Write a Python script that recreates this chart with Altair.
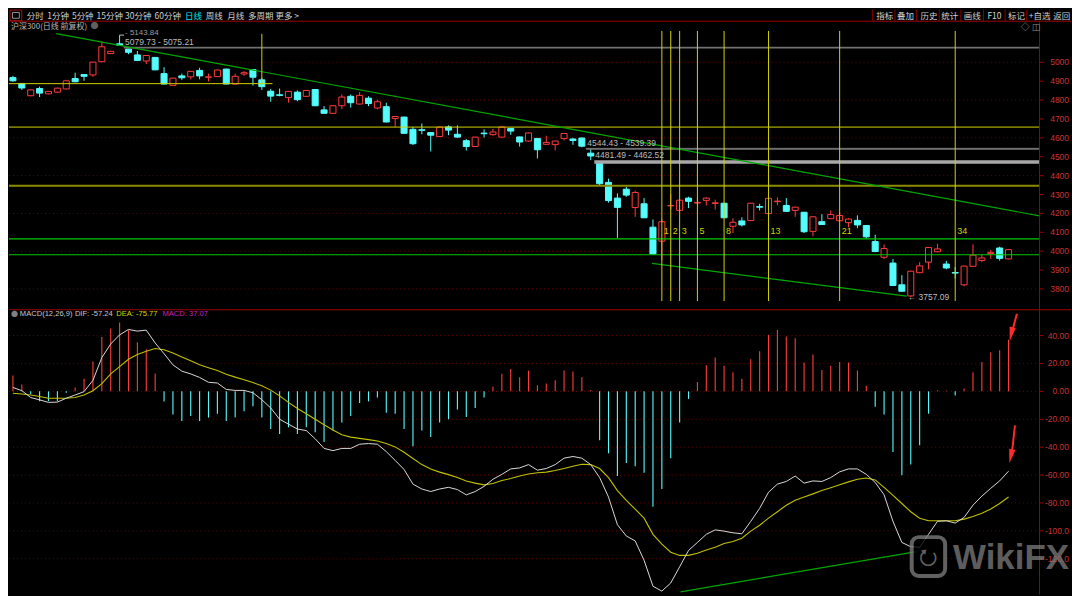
import altair as alt
import pandas as pd

# ---------------- data ----------------
OPEN = [4919, 4888, 4823, 4861, 4833, 4842, 4859, 4914, 4935, 4933,
        5003, 5046, 5098, 5070, 5039, 5007, 5026, 4940, 4878, 4928,
        4923, 4957, 4921, 4924, 4964, 4885, 4938, 4962, 4907, 4847,
        4828, 4813, 4842, 4820, 4856, 4748, 4730, 4770, 4820, 4779,
        4810, 4758, 4765, 4702, 4710, 4645, 4643, 4628, 4607, 4658,
        4619, 4585, 4554, 4625, 4617, 4604, 4650, 4605, 4583, 4597,
        4566, 4564, 4597, 4594, 4599, 4519, 4465, 4364, 4281, 4328,
        4231, 4251, 4127, 4053, 4240, 4216, 4281, 4255, 4269, 4253,
        4254, 4132, 4160, 4162, 4236, 4199, 4262, 4242, 4216, 4206,
        4105, 4156, 4172, 4161, 4151, 4163, 4136, 4051, 3968, 3937,
        3822, 3763, 3886, 3942, 3997, 3932, 3887, 3822, 3920, 3951,
        3987, 4017, 3959]
HIGH = [4928, 4890, 4856, 4871, 4848, 4866, 4904, 4945, 4937, 5002,
        5113, 5060, 5143.84, 5072, 5060, 5038, 5028, 4974, 4918, 4940,
        4954, 4971, 4940, 4961, 4966, 4940, 4954, 4964, 4919, 4859,
        4861, 4848, 4851, 4853, 4858, 4768, 4772, 4830, 4830, 4842,
        4820, 4802, 4786, 4716, 4712, 4658, 4676, 4630, 4660, 4666,
        4666, 4594, 4606, 4645, 4648, 4660, 4652, 4607, 4628, 4599,
        4611, 4585, 4625, 4600, 4602, 4545, 4467, 4384, 4306, 4340,
        4320, 4281, 4168, 4168, 4302, 4275, 4288, 4285, 4285, 4273,
        4256, 4174, 4179, 4256, 4251, 4292, 4285, 4281, 4235, 4208,
        4184, 4196, 4216, 4208, 4175, 4190, 4138, 4087, 4036, 3959,
        3873, 3896, 3942, 4021, 4040, 3949, 3916, 3923, 4036, 3985,
        4006, 4024, 4010]
LOW = [4897, 4854, 4820, 4816, 4831, 4838, 4857, 4894, 4902, 4923,
       5001, 5044, 5088, 5043, 5008, 4991, 4958, 4882, 4876, 4907,
       4910, 4910, 4899, 4922, 4883, 4883, 4928, 4877, 4854, 4791,
       4820, 4787, 4794, 4818, 4768, 4728, 4728, 4753, 4760, 4777,
       4768, 4751, 4682, 4657, 4622, 4562, 4619, 4528, 4605, 4614,
       4600, 4533, 4552, 4602, 4611, 4602, 4616, 4554, 4580, 4491,
       4564, 4533, 4586, 4563, 4550, 4482, 4350, 4257, 4070, 4288,
       4182, 4175, 3983, 3951, 4220, 4214, 4228, 4242, 4242, 4220,
       4175, 4096, 4131, 4160, 4216, 4197, 4242, 4209, 4182, 4096,
       4079, 4139, 4170, 4159, 4126, 4122, 4066, 3995, 3959, 3816,
       3785, 3757.09, 3884, 3904, 3995, 3904, 3856, 3814, 3918, 3942,
       3959, 3950, 3957]
CLOSE = [4902, 4864, 4854, 4837, 4846, 4863, 4902, 4897, 4926, 5001,
         5082, 5058, 5090, 5053, 5010, 5036, 4960, 4885, 4916, 4918,
         4952, 4928, 4923, 4959, 4885, 4926, 4945, 4921, 4871, 4821,
         4825, 4846, 4802, 4851, 4770, 4730, 4770, 4816, 4786, 4825,
         4782, 4791, 4684, 4713, 4624, 4569, 4640, 4614, 4657, 4641,
         4604, 4554, 4604, 4622, 4631, 4657, 4636, 4578, 4626, 4537,
         4576, 4583, 4623, 4586, 4556, 4504, 4357, 4268, 4232, 4297,
         4311, 4177, 3985, 4156, 4242, 4270, 4264, 4258, 4281, 4256,
         4177, 4153, 4139, 4254, 4233, 4280, 4265, 4211, 4233, 4103,
         4182, 4141, 4194, 4189, 4170, 4139, 4076, 3998, 4014, 3818,
         3788, 3894, 3922, 4019, 4012, 3911, 3884, 3921, 3979, 3964,
         3994, 3962, 4008]
HIST = [11.4, 4.9, -2, -7, -7, -7, -1, 2.8, 9, 21.4,
        38.9, 45.1, 49.3, 43.9, 35.3, 30.2, 12.8, -7.2, -16.5, -21.2,
        -17.7, -21.2, -18.8, -16, -21.2, -18.8, -14.2, -10.7, -18.8, -27,
        -30.5, -25.8, -30.5, -25.8, -29.3, -36.3, -28.1, -22.3, -17.7, -8.4,
        -7.2, -4.4, -15.3, -16, -27, -39.3, -28.1, -32.8, -22.3, -20,
        -13, -18.4, -11.9, -4.4, 3.3, 12.6, 16, 10.2, 14.9, 4.4,
        5.6, 7.9, 14.9, 14.2, 10.2, 0.9, -35.1, -44.4, -60.7, -51.4,
        -53.7, -58.4, -82.8, -70, -47.9, -22.3, -5.4, 6.8, 18.8, 24.2,
        18.4, 13.7, 9, 23, 28.8, 40.5, 44, 39.3, 38.1, 20.7,
        26.5, 15.3, 18.4, 21.1, 20.7, 14.9, 4, -11, -16.5, -43.5,
        -60.2, -52.5, -38.6, -16, 0.8, 0.6, -3, 2, 13.7, 21.1,
        28.1, 29.5, 37.07]
DIF = [2.8, 0.5, -4.4, -6.1, -7.9, -7.7, -4.9, -2.6, -0.2, 7.9,
       24.2, 34, 40.5, 44.4, 43.2, 43.9, 34.7, 27, 19, 14.5,
       12.5, 10, 6.5, 6, 1.4, 0.7, 0.7, -1, -6, -11.9,
       -20, -23.5, -27, -28.1, -34, -40.9, -42.5, -40.9, -40.9, -37.9,
       -37.4, -37.9, -43.2, -49.5, -56, -66.5, -70, -71.8, -70, -68.8,
       -70.4, -74.2, -71.8, -68.1, -63, -59.5, -55.6, -54.9, -52.5, -56.5,
       -55.3, -52.5, -47.9, -46.7, -47.9, -52.5, -61.8, -75.8, -95.6, -103.7,
       -107.2, -121.1, -139.7, -143.2, -137.4, -125.8, -114.1, -108.3, -102.5, -99.3,
       -100.2, -101.4, -102.1, -93.2, -83.9, -72.3, -66.5, -64.6, -60.7, -65.8,
       -64.2, -64.6, -61.8, -57.7, -55.6, -55.6, -59.5, -65.3, -74.2, -93.2,
       -108.3, -111.4, -111.8, -102.5, -93.2, -92.8, -94.4, -90.4, -81.6, -75.1,
       -69.5, -64.2, -57.24]
DEA = [-1.4, -1.9, -2.6, -3.7, -4.9, -4.9, -4.9, -4.4, -2.6, 0.5,
       5.6, 12.6, 17.7, 23, 26.5, 28.8, 30.7, 29.8, 27.5, 24.7,
       21.9, 19.1, 17, 14.9, 12.3, 10.2, 8.4, 6.3, 4, 0.9,
       -3.2, -7.9, -12.3, -16, -20, -23.9, -27.7, -31.1, -32.8, -33.7,
       -34.6, -35.6, -37.4, -39.8, -43.7, -48.1, -52.5, -55.6, -57.9, -59.7,
       -61.8, -64.2, -65.8, -67, -66, -63.9, -62.5, -60.7, -59.3, -58.4,
       -57.9, -56.7, -55.3, -53.7, -52.3, -52.5, -55.3, -61.8, -71.1, -78.1,
       -84.4, -90.9, -102.5, -109.5, -115.3, -117.6, -117.6, -116, -113.7, -111.8,
       -109, -107.6, -105.3, -100.2, -96, -90.9, -86.3, -81.6, -78.1, -75.8,
       -73.5, -71.1, -69.1, -67, -64.9, -63, -62.1, -63.5, -68.8, -74.6,
       -80.4, -86.3, -90.9, -92.8, -92.8, -92.8, -92.8, -91.6, -89.7, -87.4,
       -84.4, -80.4, -75.77]

PRICE_TICKS = [5000, 4900, 4800, 4700, 4600, 4500, 4400, 4300, 4200, 4100, 4000, 3900, 3800]
PRICE_GRID = [5000, 4800, 4600, 4400, 4200, 4000, 3800]
MACD_TICKS = [40, 20, 0, -20, -40, -60, -80, -100, -120]
MACD_TICK_LABELS = ["40.00", "20.00", "0.00", "-20.00", "-40.00", "-60.00", "-80.00", "-100.0", "-120.0"]

FIB_IDX = [73, 74, 75, 77, 80, 85, 93, 106]
FIB_LABELS = ["1", "2", "3", "5", "8", "13", "21", "34"]

# drawn price ranges: start candle, low, high, label
RANGE_START = [12.5, 64.5, 65.4]
RANGE_LOW = [5075.21, 4539.39, 4462.52]
RANGE_HIGH = [5079.73, 4544.43, 4481.49]
RANGE_LABEL = ["5079.73 - 5075.21", "4544.43 - 4539.39", "4481.49 - 4462.52"]

TOOLBAR_LEFT = ["分时", "1分钟", "5分钟", "15分钟", "30分钟", "60分钟", "日线", "周线", "月线", "多周期", "更多 >"]
TOOLBAR_RIGHT = ["指标", "叠加", "历史", "统计", "画线", "F10", "标记", "+自选", "返回"]

# ---------------- layout ----------------
W, H = 1064, 586
SX, SY = W / 1080.0, H / 602.0
STEP = 9.04                      # reference pixels per candle
X0, X1 = -4 / STEP, 1076 / STEP  # index domain over full width
AXIS_I = (1048 - 4) / STEP
LABEL_I = (1078 - 4) / STEP
P_DOM = [2182.6, 5279.3]
M_DOM = [-145.6, 273.75]

XS = alt.Scale(domain=[X0, X1], nice=False, zero=False)
PS = alt.Scale(domain=P_DOM, nice=False, zero=False)
MS = alt.Scale(domain=M_DOM, nice=False, zero=False)

RED = "#ff3b3b"
CYAN = "#54fcfc"
YELLOW = "#d2d200"
OLIVE = "#8c8c00"
GREEN = "#00c800"
TGREEN = "#00a800"
AXRED = "#a00000"
LBLRED = "#c83434"
GRIDRED = "#6a0000"
GRAYTXT = "#bcbcbc"
SANS = "Liberation Sans, Arial, sans-serif"
CJK = "Noto Sans CJK SC, sans-serif"

ONE = pd.DataFrame({"k": [0]})


def X(field):
    return alt.X(field, scale=XS, axis=None)


def PY(field):
    return alt.Y(field, scale=PS, axis=None)


def MY(field):
    return alt.Y(field, scale=MS, axis=None)


def ptext(text, x, y, color, size, font=CJK, align="left", weight="normal", opacity=1.0):
    return alt.Chart(ONE).mark_text(text=text, align=align, baseline="middle", color=color,
                                    fontSize=size, font=font, fontWeight=weight,
                                    opacity=opacity).encode(
        x=alt.value(x * SX), y=alt.value(y * SY))


def prule(x1, y1, x2, y2, color, width=1, dash=None):
    kw = dict(color=color, strokeWidth=width)
    if dash:
        kw["strokeDash"] = dash
    return alt.Chart(ONE).mark_rule(**kw).encode(
        x=alt.value(x1 * SX), x2=alt.value(x2 * SX), y=alt.value(y1 * SY), y2=alt.value(y2 * SY))


layers = []

# ---- gridlines ----
layers.append(alt.Chart(pd.DataFrame({"p": PRICE_GRID})).mark_rule(
    color=GRIDRED, strokeDash=[1, 3], strokeWidth=1).encode(
    x=alt.value(0), x2=alt.value(1048 * SX), y=PY("p:Q")))
layers.append(alt.Chart(pd.DataFrame({"m": MACD_TICKS})).mark_rule(
    color=GRIDRED, strokeDash=[1, 3], strokeWidth=1).encode(
    x=alt.value(0), x2=alt.value(1048 * SX), y=MY("m:Q")))

# ---- candles ----
cdf = pd.DataFrame({"i": list(range(len(OPEN))), "open": OPEN, "high": HIGH, "low": LOW, "close": CLOSE})
cdf["dir"] = ["up" if c >= o else "down" for o, c in zip(OPEN, CLOSE)]
dir_stroke = alt.Color("dir:N", scale=alt.Scale(domain=["up", "down"], range=[RED, CYAN]), legend=None)
dir_fill = alt.Fill("dir:N", scale=alt.Scale(domain=["up", "down"], range=["#000000", CYAN]), legend=None)
dir_str = alt.Stroke("dir:N", scale=alt.Scale(domain=["up", "down"], range=[RED, CYAN]), legend=None)

layers.append(alt.Chart(cdf).mark_rule(strokeWidth=1).encode(
    x=X("i:Q"), y=PY("low:Q"), y2="high:Q", color=dir_stroke))
layers.append(alt.Chart(cdf).transform_calculate(
    x0="datum.i - 0.34", x1="datum.i + 0.34").mark_rect(strokeWidth=1).encode(
    x=X("x0:Q"), x2="x1:Q", y=PY("open:Q"), y2="close:Q", fill=dir_fill, stroke=dir_str))

# ---- horizontal drawn lines ----
hl = pd.DataFrame({
    "p": [4887, 4657, 4347, 4065, 3981],
    "a": [X0, X0, X0, X0, X0],
    "b": [29.2, AXIS_I, AXIS_I, AXIS_I, AXIS_I],
    "c": ["y", "y", "o", "g", "g"],
})
for key, col, wdt in [("y", YELLOW, 1), ("o", OLIVE, 2), ("g", GREEN, 1.2)]:
    layers.append(alt.Chart(hl[hl.c == key]).mark_rule(color=col, strokeWidth=wdt).encode(
        x=X("a:Q"), x2="b:Q", y=PY("p:Q")))

# ---- price range rectangles (gray) ----
rdf = pd.DataFrame({"a": RANGE_START, "b": [AXIS_I] * 3, "lo": RANGE_LOW, "hi": RANGE_HIGH,
                    "lab": RANGE_LABEL, "k": ["thin", "thin", "thick"]})
layers.append(alt.Chart(rdf[rdf.k == "thin"]).mark_rect(color="#7a7a7a", stroke="#7a7a7a", strokeWidth=0.8).encode(
    x=X("a:Q"), x2="b:Q", y=PY("lo:Q"), y2="hi:Q"))
layers.append(alt.Chart(rdf[rdf.k == "thick"]).mark_rect(color="#a8a8a8").encode(
    x=X("a:Q"), x2="b:Q", y=PY("lo:Q"), y2="hi:Q"))

# ---- trend lines ----
up_tl = pd.DataFrame({"i": [4.87, AXIS_I], "v": [5152, 4187]})
lo_tl = pd.DataFrame({"i": [71.9, 100.55], "v": [3935, 3762]})
layers.append(alt.Chart(up_tl).mark_line(color=TGREEN, strokeWidth=1.2).encode(x=X("i:Q"), y=PY("v:Q")))
layers.append(alt.Chart(lo_tl).mark_line(color=TGREEN, strokeWidth=1.2).encode(x=X("i:Q"), y=PY("v:Q")))

# ---- fibonacci time lines ----
fdf = pd.DataFrame({"i": FIB_IDX, "lab": FIB_LABELS, "top": [5166] * 8, "bot": [3736] * 8, "ly": [4105] * 8})
layers.append(alt.Chart(fdf).mark_rule(color=YELLOW, strokeWidth=1).encode(
    x=X("i:Q"), y=PY("bot:Q"), y2="top:Q"))
layers.append(alt.Chart(fdf).mark_text(align="left", baseline="middle", dx=2, color=YELLOW,
                                       fontSize=9, font=SANS).encode(
    x=X("i:Q"), y=PY("ly:Q"), text="lab:N"))
layers.append(alt.Chart(pd.DataFrame({"i": [28], "a": [4883], "b": [5151]})).mark_rule(
    color=YELLOW, strokeWidth=1).encode(x=X("i:Q"), y=PY("a:Q"), y2="b:Q"))

# ---- price annotations ----
layers.append(alt.Chart(rdf).mark_text(
    align="left", baseline="bottom", dx=1, dy=0, color=GRAYTXT, fontSize=8.5, font=SANS).encode(
    x=X("a:Q"), y=PY("hi:Q"), text="lab:N"))
hi_df = pd.DataFrame({"i": [12], "i2": [12.5], "v": [max(HIGH)]})
layers.append(alt.Chart(hi_df).mark_rule(color=GRAYTXT, strokeWidth=1).encode(
    x=X("i:Q"), x2="i2:Q", y=PY("v:Q")))
layers.append(alt.Chart(hi_df).transform_calculate(t="'- ' + format(datum.v, '.2f')").mark_text(
    align="left", baseline="middle", dx=1, dy=-2.5, color="#9a9a9a", fontSize=8, font=SANS).encode(
    x=X("i2:Q"), y=PY("v:Q"), text="t:N"))
lo_df = pd.DataFrame({"i": [100.66], "v": [min(LOW)]})
layers.append(alt.Chart(lo_df).transform_calculate(t="'\u2190 ' + format(datum.v, '.2f')").mark_text(
    align="left", baseline="middle", color=GRAYTXT, fontSize=8.5, font=SANS).encode(
    x=X("i:Q"), y=PY("v:Q"), text="t:N"))

# ---- MACD ----
mdf = pd.DataFrame({"i": list(range(len(HIST))), "hist": HIST, "dif": DIF, "dea": DEA})
mdf["zero"] = 0.0
mdf["sgn"] = ["pos" if h >= 0 else "neg" for h in HIST]
layers.append(alt.Chart(mdf).mark_rule(strokeWidth=1.1).encode(
    x=X("i:Q"), y=MY("zero:Q"), y2="hist:Q",
    color=alt.Color("sgn:N", scale=alt.Scale(domain=["pos", "neg"], range=["#e82828", "#4cc8cc"]), legend=None)))
layers.append(alt.Chart(mdf).mark_line(color="#c0c000", strokeWidth=1.1).encode(x=X("i:Q"), y=MY("dea:Q")))
layers.append(alt.Chart(mdf).mark_line(color="#d8d8d8", strokeWidth=1).encode(x=X("i:Q"), y=MY("dif:Q")))
mg = pd.DataFrame({"i": [75.1, 101.66], "v": [-143.7, -114.9]})
layers.append(alt.Chart(mg).mark_line(color=TGREEN, strokeWidth=1.2).encode(x=X("i:Q"), y=MY("v:Q")))

# red arrows
arr = pd.DataFrame({"a": [112.94, 112.72], "b": [112.45, 112.4], "ya": [55.7, -24.4], "yb": [44.0, -43.0],
                    "hx": [112.3, 112.26], "hy": [41.0, -46.5]})
layers.append(alt.Chart(arr).mark_rule(color="#ff2a2a", strokeWidth=2).encode(
    x=X("a:Q"), x2="b:Q", y=MY("ya:Q"), y2="yb:Q"))
layers.append(alt.Chart(arr).mark_point(shape="M0,1L-0.45,-1L0.45,-1Z", filled=True, color="#ff2a2a",
                                        size=200, angle=12, opacity=1).encode(
    x=X("hx:Q"), y=MY("hy:Q")))

# ---- frame lines ----
layers.append(prule(0, 12, 1080, 12, AXRED, 1))
layers.append(prule(0, 309, 1080, 309, AXRED, 1.2))
layers.append(prule(1048, 12, 1048, 602, AXRED, 1))

# ---- right axes ----
pt = pd.DataFrame({"p": PRICE_TICKS, "t": [str(p) for p in PRICE_TICKS], "x": [LABEL_I] * len(PRICE_TICKS),
                   "a": [AXIS_I] * len(PRICE_TICKS), "b": [AXIS_I + 0.45] * len(PRICE_TICKS)})
layers.append(alt.Chart(pt).mark_rule(color=AXRED, strokeWidth=1).encode(x=X("a:Q"), x2="b:Q", y=PY("p:Q")))
layers.append(alt.Chart(pt).mark_text(align="right", baseline="middle", color=LBLRED, fontSize=8.5,
                                      font=SANS).encode(x=X("x:Q"), y=PY("p:Q"), text="t:N"))
mt = pd.DataFrame({"m": MACD_TICKS, "t": MACD_TICK_LABELS, "x": [LABEL_I] * len(MACD_TICKS),
                   "a": [AXIS_I] * len(MACD_TICKS), "b": [AXIS_I + 0.45] * len(MACD_TICKS)})
layers.append(alt.Chart(mt).mark_rule(color=AXRED, strokeWidth=1).encode(x=X("a:Q"), x2="b:Q", y=MY("m:Q")))
layers.append(alt.Chart(mt).mark_text(align="right", baseline="middle", color=LBLRED, fontSize=8.5,
                                      font=SANS).encode(x=X("x:Q"), y=MY("m:Q"), text="t:N"))

# ---- toolbar ----
TB_LEFT_X = [18, 39, 64, 89, 118, 148, 179, 200, 222, 243, 271]
TB_RIGHT_X = [882, 903, 927, 948, 971, 995, 1016, 1037, 1062]
TB_SEP_X = [878, 901, 923, 946, 968, 991, 1013, 1035, 1058]
layers.append(alt.Chart(ONE).mark_rect(fill="#000000", stroke="#b01010", strokeWidth=1).encode(
    x=alt.value(1 * SX), x2=alt.value(13 * SX), y=alt.value(0.5 * SY), y2=alt.value(11.5 * SY)))
layers.append(alt.Chart(ONE).mark_rect(fill="#000000", stroke="#909090", strokeWidth=1).encode(
    x=alt.value(3.5 * SX), x2=alt.value(10.5 * SX), y=alt.value(3 * SY), y2=alt.value(9 * SY)))
for lab, x in zip(TOOLBAR_LEFT, TB_LEFT_X):
    layers.append(ptext(lab, x, 6.2, "#00e8e8" if lab == "日线" else "#d0d0d0", 8.5))
for x in TB_SEP_X:
    layers.append(prule(x, 0, x, 12, "#8a0000", 1))
for lab, x in zip(TOOLBAR_RIGHT, TB_RIGHT_X):
    layers.append(ptext(lab, x, 6.2, "#d0d0d0", 8.5))

# ---- titles ----
layers.append(ptext("沪深300(日线 前复权)", 2, 17.5, "#b8b8b8", 8))
layers.append(ptext("\u25cf", 83, 17.5, "#606060", 8))
layers.append(ptext("\u25c7", 1029, 18, "#909090", 9))
layers.append(ptext("\u25eb", 1040, 18, "#909090", 9))
layers.append(ptext("\u25cf", 2, 313.5, "#808080", 7))
layers.append(ptext("MACD(12,26,9)", 11, 313.5, "#c8c8c8", 7.6, font=SANS))
layers.append(ptext("DIF: -57.24", 67, 313.5, "#c8c8c8", 7.6, font=SANS))
layers.append(ptext("DEA: -75.77", 109, 313.5, "#d8d800", 7.6, font=SANS))
layers.append(ptext("MACD: 37.07", 156, 313.5, "#c020c0", 7.6, font=SANS))

# ---- watermark ----
layers.append(alt.Chart(ONE).mark_rect(fill="#000000", stroke="#7a7a7a", strokeWidth=4, cornerRadius=7,
                                       opacity=0.8).encode(
    x=alt.value(918 * SX), x2=alt.value(952 * SX), y=alt.value(543 * SY), y2=alt.value(583 * SY)))
layers.append(ptext("\u2B6E", 935, 563, "#7a7a7a", 22, font="DejaVu Sans", align="center", opacity=0.8))
layers.append(ptext("WikiFX", 960, 565, "#7c7c7c", 35, font="Liberation Sans", weight="bold", opacity=0.75))

chart = alt.layer(*layers).resolve_scale(y="independent").properties(
    width=W, height=H, background="#000000", padding=0
).configure_view(stroke=None)

chart.save("out.html", embed_options={"renderer": "svg", "actions": False})
